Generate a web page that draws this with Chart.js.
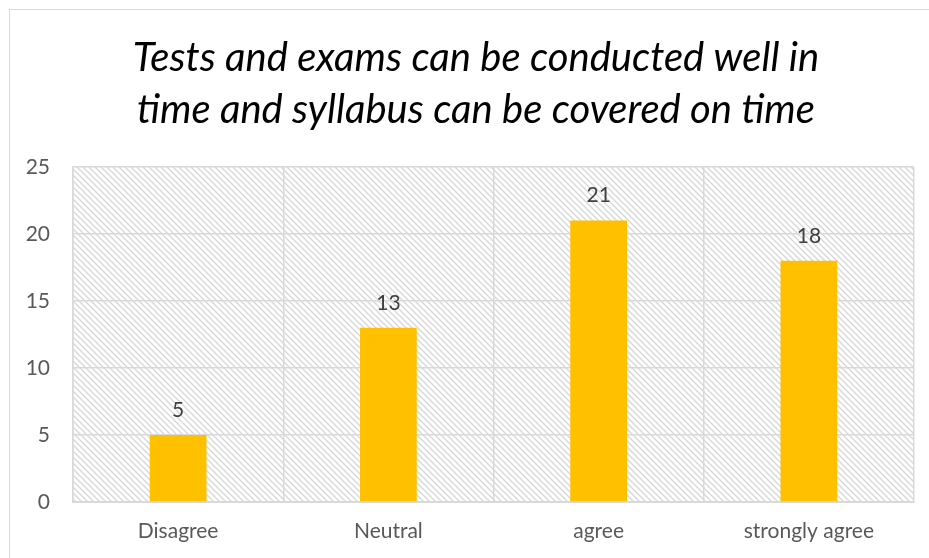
<!DOCTYPE html>
<html>
<head>
<meta charset="utf-8">
<script src="https://cdn.jsdelivr.net/npm/chart.js@4"></script>
<style>
  body { margin: 0; background: #fff; }
  #wrap { position: relative; width: 929px; height: 558px; overflow: hidden; }
  #frame { position: absolute; left: 9px; top: 9px; width: 960px; height: 600px; border: 1px solid #d9d9d9; box-sizing: border-box; }
  canvas { position: absolute; left: 0; top: 0; }
</style>
</head>
<body>
<div id="wrap">
  <div id="frame"></div>
  <canvas id="barChart" width="929" height="558"></canvas>
</div>
<script>
const categories = ['Disagree', 'Neutral', 'agree', 'strongly agree']
const responses = [5, 13, 21, 18]
const titleLines = ['Tests and exams can be conducted well in', 'time and syllabus can be covered on time']

const fontName = 'Lato, "Open Sans", sans-serif'

// light diagonal hatch behind the plot
function makeHatch() {
    const c = document.createElement('canvas')
    c.width = 6
    c.height = 6
    const g = c.getContext('2d')
    g.strokeStyle = '#d6d6d6'
    g.lineWidth = 1.3
    g.beginPath()
    g.moveTo(0, 0); g.lineTo(6, 6)
    g.moveTo(-3, 3); g.lineTo(3, 9)
    g.moveTo(3, -3); g.lineTo(9, 3)
    g.stroke()
    return c
}

const hatchPlugin = {
    id: 'hatch',
    beforeDraw(chart) {
        const { ctx, chartArea } = chart
        ctx.save()
        ctx.fillStyle = ctx.createPattern(makeHatch(), 'repeat')
        ctx.fillRect(chartArea.left, chartArea.top, chartArea.right - chartArea.left, chartArea.bottom - chartArea.top)
        ctx.restore()
    }
}

// title is centred a bit right of the canvas middle, like the original
const titlePlugin = {
    id: 'bigTitle',
    afterDraw(chart) {
        const ctx = chart.ctx
        ctx.save()
        ctx.fillStyle = '#000'
        ctx.font = 'italic 40px ' + fontName
        ctx.textAlign = 'center'
        ctx.textBaseline = 'middle'
        titleLines.forEach((line, i) => {
            ctx.fillText(line, 476, 58 + i * 52)
        })
        ctx.restore()
    }
}

const valueLabels = {
    id: 'valueLabels',
    afterDatasetsDraw(chart) {
        const ctx = chart.ctx
        const meta = chart.getDatasetMeta(0)
        ctx.save()
        ctx.fillStyle = '#404040'
        ctx.font = '21px ' + fontName
        ctx.textAlign = 'center'
        ctx.textBaseline = 'middle'
        meta.data.forEach((bar, i) => {
            ctx.fillText(responses[i], bar.x, bar.y - 25)
        })
        ctx.restore()
    }
}

new Chart('barChart', {
    type: 'bar',
    data: {
        labels: categories,
        datasets: [
            {
                data: responses,
                backgroundColor: '#FFC000',
                barPercentage: 0.27,
                categoryPercentage: 1
            }
        ]
    },
    options: {
        responsive: false,
        animation: false,
        layout: {
            padding: { top: 167, right: 15, bottom: 0, left: 0 }
        },
        plugins: {
            legend: { display: false },
            tooltip: { enabled: false },
            title: { display: false }
        },
        scales: {
            x: {
                grid: { color: '#d9d9d9', drawTicks: false, lineWidth: 1.5 },
                border: { color: '#d9d9d9', width: 2 },
                ticks: { color: '#595959', font: { size: 21, family: fontName }, padding: 17 },
                afterFit(scale) { scale.height = 56 }
            },
            y: {
                min: 0,
                max: 25,
                ticks: { stepSize: 5, color: '#595959', font: { size: 21, family: fontName }, padding: 23 },
                grid: { color: '#d9d9d9', drawTicks: false, lineWidth: 1.5 },
                border: { color: '#d9d9d9', width: 1.5 },
                afterFit(scale) { scale.width = 73 }
            }
        }
    },
    plugins: [hatchPlugin, valueLabels, titlePlugin]
})
</script>
</body>
</html>
